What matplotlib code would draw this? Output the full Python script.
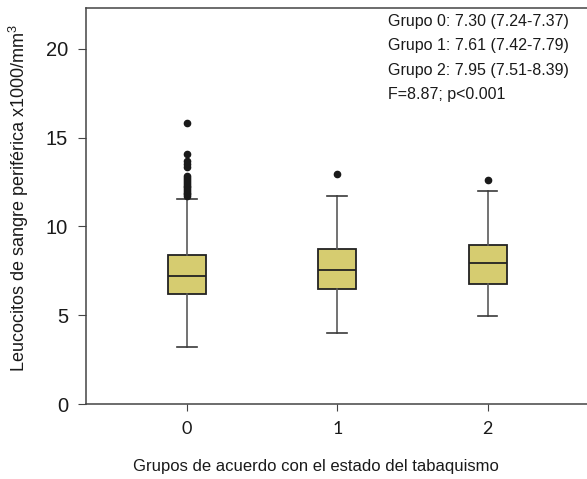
import matplotlib
matplotlib.use("Agg")
import matplotlib.pyplot as plt

# -- data --
groups = [0, 1, 2]
group_labels = ["0", "1", "2"]
medians = [7.22, 7.55, 7.93]
q1 = [6.18, 6.50, 6.76]
q3 = [8.40, 8.72, 8.95]
whisker_low = [3.19, 4.00, 4.98]
whisker_high = [11.54, 11.72, 12.02]
outliers = [
    [11.7, 11.8, 11.9, 12.0, 12.1, 12.2, 12.3, 12.4, 12.5, 12.6, 12.7,
     12.85, 13.35, 13.5, 13.7, 14.1, 15.8],
    [12.96],
    [12.63],
]
summary = [
    "Grupo 0: 7.30 (7.24-7.37)",
    "Grupo 1: 7.61 (7.42-7.79)",
    "Grupo 2: 7.95 (7.51-8.39)",
    "F=8.87; p<0.001",
]

plt.rcParams["font.family"] = ["Liberation Sans", "DejaVu Sans"]

fig = plt.figure(figsize=(5.87, 4.79), dpi=100)
ax = fig.add_axes([86 / 587, 75 / 479, 501 / 587, 396 / 479])

stats = []
for i in range(len(groups)):
    stats.append({
        "med": medians[i], "q1": q1[i], "q3": q3[i],
        "whislo": whisker_low[i], "whishi": whisker_high[i],
        "fliers": outliers[i],
    })

ax.bxp(
    stats, positions=groups, widths=0.25, patch_artist=True,
    showfliers=True,
    boxprops=dict(facecolor="#d6cc70", edgecolor="#222222", linewidth=1.3),
    medianprops=dict(color="#222222", linewidth=1.3),
    whiskerprops=dict(color="#5a5a5a", linewidth=1.2),
    capprops=dict(color="#3a3a3a", linewidth=1.2),
    capwidths=0.13,
    flierprops=dict(marker="o", markerfacecolor="#1a1a1a",
                    markeredgecolor="#1a1a1a", markersize=4.5),
)

ax.set_xlim(-0.67, 2.66)
ax.set_ylim(0, 22.3)
ax.set_yticks([0, 5, 10, 15, 20])
ax.set_xticks(groups)
ax.set_xticklabels(group_labels, fontsize=13, family=["Lato", "DejaVu Sans"])
ax.tick_params(axis="y", labelsize=14.5, length=6, color="#444444", pad=7,
               labelcolor="#1a1a1a")
ax.tick_params(axis="x", length=5, color="#444444", pad=7,
               labelcolor="#1a1a1a")

ax.spines["right"].set_visible(False)
for s in ["top", "left", "bottom"]:
    ax.spines[s].set_color("#444444")
    ax.spines[s].set_linewidth(1.1)

ax.set_ylabel("Leucocitos de sangre periférica x1000/mm$^{\\mathregular{3}}$",
              fontsize=13, color="#1a1a1a")
ax.yaxis.set_label_coords(-0.11, 0.52)
ax.set_xlabel("Grupos de acuerdo con el estado del tabaquismo", fontsize=12,
              color="#1a1a1a")
ax.xaxis.set_label_coords(0.459, -0.14)

for k, line in enumerate(summary):
    ax.text(0.602, 0.985 - k * 0.0615, line, transform=ax.transAxes,
            fontsize=11.5, va="top", ha="left", color="#1a1a1a")

fig.savefig("out.png", dpi=100)
